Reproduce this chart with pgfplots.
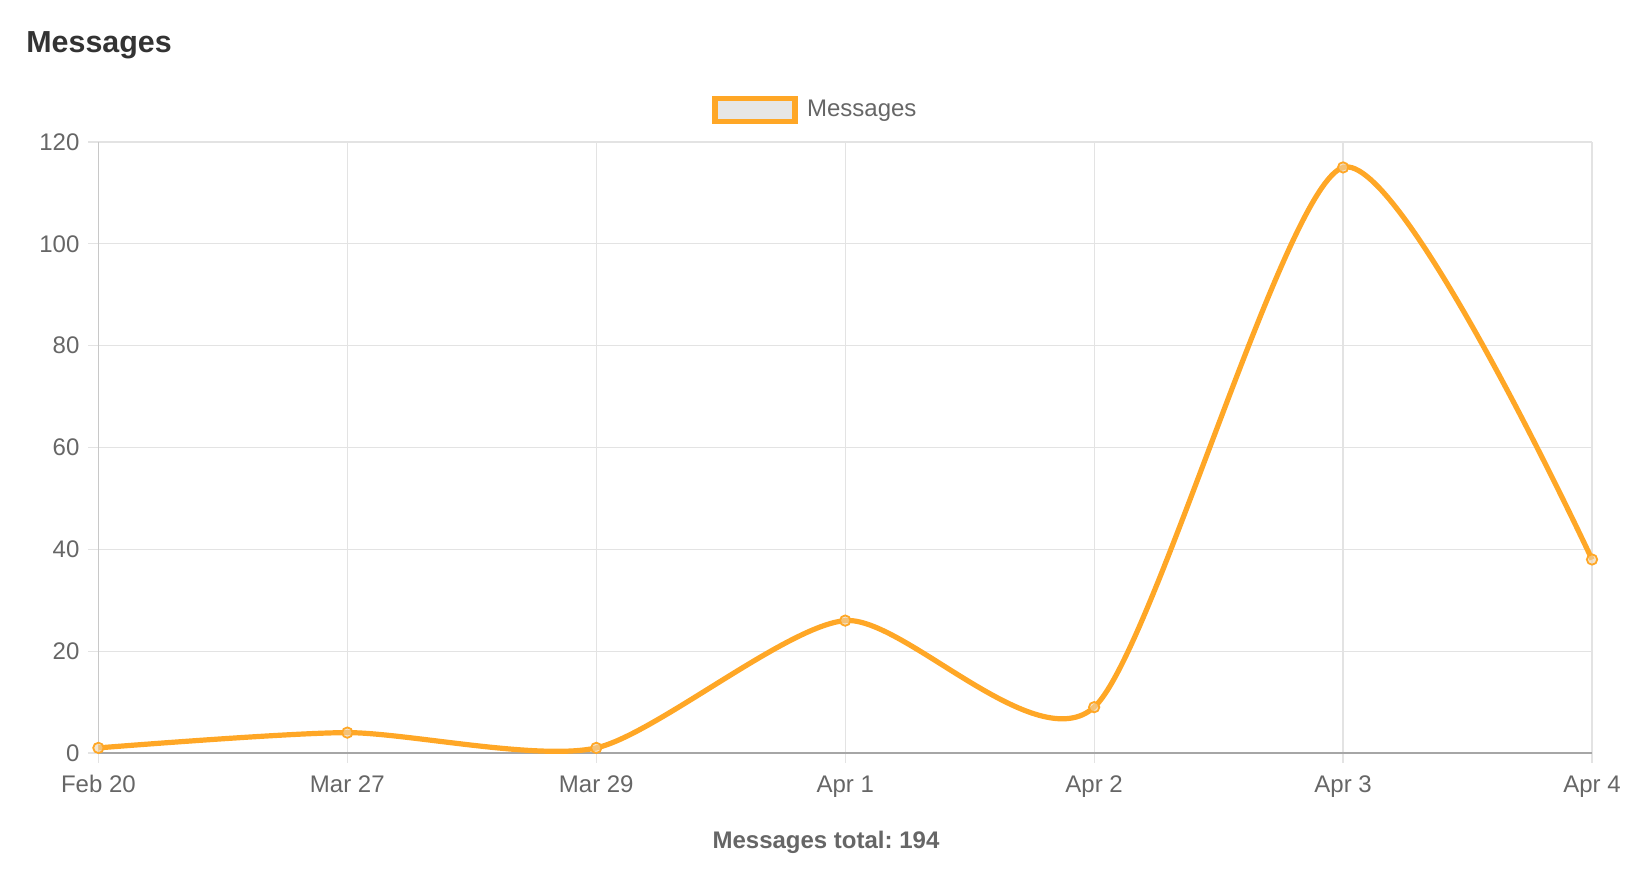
\documentclass[border=0pt]{standalone}
\usepackage{pgfplots}
\pgfplotsset{compat=1.18}
\usepackage{fontspec}
\setmainfont{Liberation Sans}
\definecolor{orng}{HTML}{FFA726}
\definecolor{txt}{HTML}{666666}
\definecolor{ttl}{HTML}{333333}
\definecolor{grd}{HTML}{E3E3E3}
\definecolor{zer}{HTML}{A6A6A6}
\definecolor{lft}{HTML}{C8C8C8}
\definecolor{lgf}{HTML}{E6E6E6}
\frenchspacing
\begin{document}
\begin{tikzpicture}[x=1bp,y=1bp]
\path[use as bounding box] (0,0) rectangle (820,437);
\node[anchor=base west, font=\bfseries\fontsize{15.2bp}{18bp}\selectfont, text=ttl, inner sep=0pt] at (13,410.5) {Messages};
\begin{axis}[
  at={(49.2bp,60.5bp)}, anchor=south west,
  scale only axis, width=746.8bp, height=305.5bp,
  xmin=0, xmax=6, ymin=0, ymax=120,
  xtick={0,...,6},
  xticklabels={Feb 20, Mar 27, Mar 29, Apr 1, Apr 2, Apr 3, Apr 4},
  ytick={0,20,...,120},
  grid=major, grid style={grd, line width=0.6bp},
  axis lines=left,
  x axis line style={-, zer, line width=0.8bp},
  y axis line style={-, lft, line width=0.7bp},
  tick align=outside, major tick length=5bp,
  tick style={grd, line width=0.6bp},
  ticklabel style={font=\fontsize{12bp}{14bp}\selectfont, text=txt},
  /pgf/number format/assume math mode=true,
  xticklabel style={anchor=base, yshift=-15bp},
  yticklabel style={anchor=east, xshift=-1bp},
  clip=false,
  legend style={at={(0.4825,1.0524)}, anchor=center, draw=none, fill=none,
    font=\fontsize{12bp}{14bp}\selectfont, text=txt, inner sep=0pt,
    cells={anchor=west}, nodes={inner xsep=4.7bp}},
  legend image code/.code={\draw[orng, line width=2.75bp, fill=lgf] (0bp,-5.75bp) rectangle (40bp,5.75bp);},
]
\addplot[orng, line width=2.6bp, smooth, tension=0.42, mark=*, mark size=2.6bp,
  mark options={fill=lgf!70!orng, draw=orng, line width=0.9bp, fill opacity=0.6}]
  coordinates {(0,1) (1,4) (2,1) (3,26) (4,9) (5,115) (6,38)};
\addlegendentry{Messages}
\end{axis}
\node[anchor=base, font=\bfseries\fontsize{12bp}{14bp}\selectfont, text=txt, inner sep=0pt] at (413,12.5) {Messages total: 194};
\end{tikzpicture}
\end{document}
